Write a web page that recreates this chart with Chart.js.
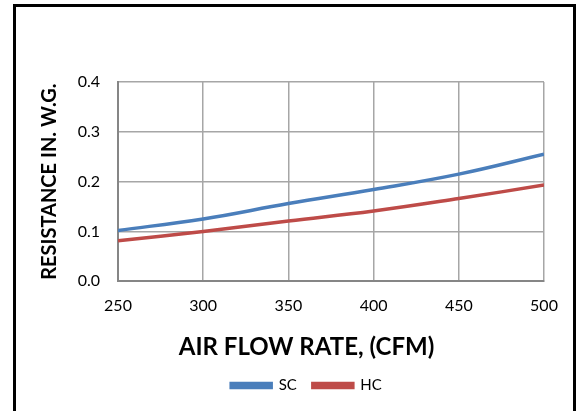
<!DOCTYPE html>
<html>
<head>
<meta charset="utf-8">
<script src="https://cdn.jsdelivr.net/npm/chart.js@4.4.0/dist/chart.umd.min.js"></script>
<style>
  html, body { margin: 0; padding: 0; background: #fff; overflow: hidden; }
  #frame {
    position: absolute; left: 13px; top: 4px;
    width: 557px; height: 500px;
    border: 3px solid #000;
  }
  #wrap { position: absolute; left: 0; top: 0; width: 581px; height: 411px; }
</style>
</head>
<body>
<div id="frame"></div>
<div id="wrap"><canvas id="airflowChart"></canvas></div>
<script>
// values
const airflow = [250, 300, 350, 400, 450, 500];
const scValues = [0.102, 0.125, 0.156, 0.184, 0.215, 0.255];
const hcValues = [0.081, 0.100, 0.121, 0.141, 0.166, 0.193];
const seriesNames = ['SC', 'HC'];
const xTicks = [250, 300, 350, 400, 450, 500];
const yTicks = [0.0, 0.1, 0.2, 0.3, 0.4];

const fontFamily = 'Lato, "Liberation Sans", sans-serif';
const padLeft = 32;

function toPoints(values) {
  return airflow.map((x, i) => ({ x: x, y: values[i] }));
}

const ctx = document.getElementById('airflowChart').getContext('2d');
new Chart(ctx, {
  type: 'line',
  data: {
    datasets: [
      {
        label: seriesNames[0],
        data: toPoints(scValues),
        borderColor: '#4a7ebb',
        backgroundColor: '#4a7ebb',
        borderWidth: 3.5,
        pointRadius: 0,
        tension: 0.4,
        fill: false
      },
      {
        label: seriesNames[1],
        data: toPoints(hcValues),
        borderColor: '#be4b48',
        backgroundColor: '#be4b48',
        borderWidth: 3.5,
        pointRadius: 0,
        tension: 0.4,
        fill: false
      }
    ]
  },
  options: {
    responsive: true,
    maintainAspectRatio: false,
    animation: false,
    layout: {
      padding: { left: padLeft, right: 0, top: 82, bottom: 8 }
    },
    plugins: {
      tooltip: { enabled: false },
      // x axis title as chart title so it is centred on the whole chart like in Excel
      title: {
        display: true,
        position: 'bottom',
        weight: 500,
        text: 'AIR FLOW RATE, (CFM)',
        color: '#000',
        padding: { top: 12, bottom: 0 },
        font: { family: fontFamily, size: 24, weight: 'bold' }
      },
      legend: {
        position: 'bottom',
        labels: {
          boxWidth: 40,
          boxHeight: 4,
          padding: 16,
          color: '#000',
          font: { family: fontFamily, size: 15 }
        }
      }
    },
    scales: {
      x: {
        type: 'linear',
        min: xTicks[0],
        max: xTicks[xTicks.length - 1],
        afterBuildTicks: (scale) => { scale.ticks = xTicks.map(v => ({ value: v })); },
        afterFit: (scale) => { scale.height = 40; },
        grid: { color: '#a6a6a6', lineWidth: 1.5, drawTicks: false },
        border: { color: '#868686', width: 2 },
        ticks: {
          padding: 15,
          color: '#000',
          font: { family: fontFamily, size: 16 }
        }
      },
      y: {
        min: yTicks[0],
        max: yTicks[yTicks.length - 1],
        afterBuildTicks: (scale) => { scale.ticks = yTicks.map(v => ({ value: v })); },
        afterFit: (scale) => { scale.width = 118 - padLeft; },
        grid: { color: '#a6a6a6', lineWidth: 1.5, drawTicks: false },
        border: { color: '#868686', width: 2 },
        ticks: {
          padding: 18,
          color: '#000',
          font: { family: fontFamily, size: 16 },
          callback: (v) => Number(v).toFixed(1)
        },
        title: {
          display: true,
          text: 'RESISTANCE IN. W.G.',
          color: '#000',
          padding: { top: 6, bottom: 0 },
          font: { family: fontFamily, size: 20, weight: 'bold' }
        }
      },
      // empty axis on the right only to keep the plot edge at the same place
      yRight: {
        position: 'right',
        display: true,
        afterFit: (scale) => { scale.width = 581 - 544; },
        grid: { display: false },
        border: { display: false },
        ticks: { display: false }
      }
    }
  }
});
</script>
</body>
</html>
